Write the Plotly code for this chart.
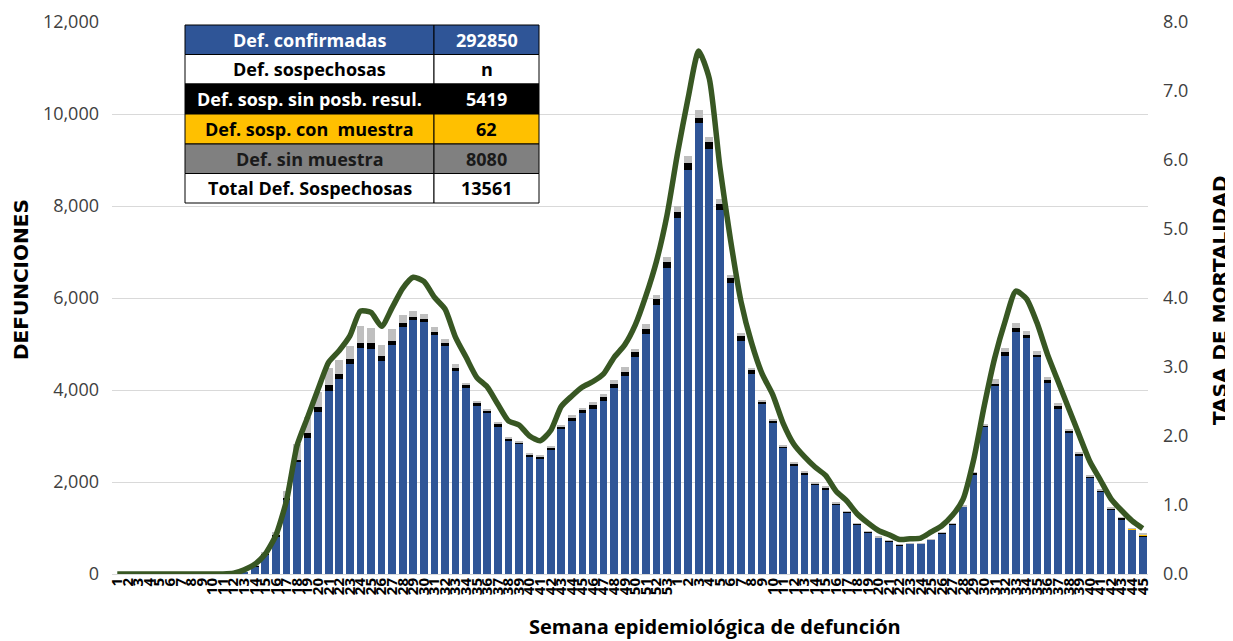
import plotly.graph_objects as go

# ---------------- data ----------------
weeks_2020 = list(range(1, 54))
weeks_2021 = list(range(1, 46))
week_labels = [str(w) for w in weeks_2020] + [str(w) for w in weeks_2021]

confirmadas = (
    [0] * 11 + [8, 40, 170, 420, 800, 1610, 2435, 2960, 3525, 3985, 4240, 4565, 4910, 4885,
                4640, 4980, 5365, 5525, 5480, 5205, 4960, 4420, 4035, 3657, 3497, 3206, 2886,
                2820, 2552, 2500, 2690, 3148, 3322, 3490, 3577, 3751, 4050, 4304, 4711, 5220,
                5852, 6657]
    + [7738, 8781, 9794, 9246, 7918, 6334, 5066, 4338, 3692, 3280, 2732, 2357, 2159, 1948,
       1839, 1512, 1330, 1076, 894, 785, 712, 625, 654, 654, 741, 880, 1076, 1460, 2166,
       3199, 4086, 4747, 5271, 5125, 4711, 4158, 3591, 3068, 2580, 2087, 1788, 1396, 1192,
       960, 821]
)

sin_posib_resul = (
    [0] * 13 + [10, 20, 50, 40, 50, 115, 110, 125, 110, 100, 110, 130, 90, 95, 90, 70, 65,
                60, 60, 65, 65, 58, 58, 58, 50, 45, 50, 50, 50, 50, 70, 70, 95, 95, 87, 95,
                110, 110, 124, 120]
    + [128, 150, 128, 150, 135, 105, 113, 90, 60, 60, 45, 45, 50, 30, 36, 30, 22, 22, 22,
       15, 15, 12, 12, 10, 10, 12, 15, 15, 30, 36, 44, 73, 87, 73, 58, 58, 65, 51, 36, 29,
       29, 22, 29, 10, 8]
)

con_muestra = [0] * 53 + [0] * 40 + [5, 2, 3, 12, 40]

sin_muestra = (
    [0] * 13 + [15, 30, 60, 160, 350, 340, 330, 360, 305, 290, 380, 340, 255, 255, 180, 130,
                110, 100, 90, 75, 60, 45, 35, 35, 30, 30, 35, 35, 35, 50, 58, 45, 58, 65, 73,
                95, 80, 95, 100, 113]
    + [128, 150, 158, 98, 90, 68, 53, 53, 38, 30, 38, 38, 25, 25, 20, 15, 15, 10, 10, 10, 8,
       8, 5, 5, 5, 5, 5, 5, 10, 10, 100, 87, 95, 80, 87, 58, 65, 36, 29, 15, 15, 22, 10, 5, 5]
)

tasa_mortalidad = (
    [0.0] * 11 + [0.01, 0.06, 0.14, 0.29, 0.56, 1.06, 1.86, 2.27, 2.68, 3.07, 3.24, 3.45,
                  3.81, 3.79, 3.59, 3.86, 4.14, 4.30, 4.24, 4.01, 3.84, 3.43, 3.14, 2.85,
                  2.71, 2.46, 2.22, 2.16, 2.00, 1.93, 2.08, 2.43, 2.58, 2.71, 2.79, 2.90,
                  3.14, 3.32, 3.61, 4.03, 4.53, 5.20]
    + [6.10, 6.90, 7.58, 7.18, 5.90, 4.85, 3.95, 3.35, 2.90, 2.60, 2.18, 1.88, 1.70, 1.55,
       1.43, 1.20, 1.06, 0.87, 0.74, 0.63, 0.57, 0.50, 0.51, 0.52, 0.61, 0.70, 0.85, 1.08,
       1.65, 2.43, 3.13, 3.67, 4.10, 3.99, 3.64, 3.18, 2.79, 2.40, 2.01, 1.63, 1.36, 1.09,
       0.92, 0.77, 0.66]
)

table_labels = ["Def. confirmadas", "Def. sospechosas", "Def. sosp. sin posb. resul.",
                "Def. sosp. con  muestra", "Def. sin muestra", "Total Def. Sospechosas"]
table_values = ["292850", "n", "5419", "62", "8080", "13561"]

# ---------------- figure ----------------
x_idx = list(range(len(week_labels)))

fig = go.Figure()
bar_specs = [
    (confirmadas, "#2F5597", "Def. confirmadas"),
    (sin_posib_resul, "#000000", "Def. sosp. sin posb. resul."),
    (con_muestra, "#FFC000", "Def. sosp. con muestra"),
    (sin_muestra, "#BFBFBF", "Def. sin muestra"),
]
for vals, col, name in bar_specs:
    fig.add_trace(go.Bar(x=x_idx, y=vals, name=name, marker=dict(color=col, line=dict(width=0)),
                         yaxis="y"))

fig.add_trace(go.Scatter(x=x_idx, y=tasa_mortalidad, mode="lines", name="Tasa",
                         line=dict(color="#385723", width=5.5, shape="spline", smoothing=0.6),
                         yaxis="y2"))

# page body margin offset (browser default 8px)
OFF = 8
FIG_W, FIG_H = 1233 - OFF, 641 - OFF
# plot area in screen pixels
SL, SR, ST, SB = 112, 1148, 22, 574
L, R, T, B = SL - OFF, SR - OFF, ST - OFF, SB - OFF
W, H = R - L, B - T


def px(x):
    return (x - SL) / W


def py(y):
    return (SB - y) / H


row_edges = [25, 54.5, 84, 114, 144, 173.5, 203]
col_edges = [185, 434, 539]
fills = ["#2F5597", "#FFFFFF", "#000000", "#FFC000", "#808080", "#FFFFFF"]
txtcols = ["#FFFFFF", "#000000", "#FFFFFF", "#000000", "#1A1A1A", "#000000"]

shapes = []
annotations = []
for i in range(6):
    y0, y1 = row_edges[i], row_edges[i + 1]
    for j in range(2):
        x0, x1 = col_edges[j], col_edges[j + 1]
        shapes.append(dict(type="rect", xref="paper", yref="paper",
                           x0=px(x0), x1=px(x1), y0=py(y1), y1=py(y0),
                           fillcolor=fills[i], line=dict(color="#000000", width=1),
                           layer="above"))
        txt = table_labels[i] if j == 0 else table_values[i]
        annotations.append(dict(xref="paper", yref="paper", x=px((x0 + x1) / 2),
                                y=py((y0 + y1) / 2), text="<b>" + txt + "</b>",
                                showarrow=False, xanchor="center", yanchor="middle",
                                font=dict(family="Open Sans", size=18, color=txtcols[i])))

# axis titles
title_font = dict(family="DejaVu Sans", size=20, color="#000000")
annotations.append(dict(xref="paper", yref="paper", x=px(715), y=py(641),
                        text="<b>Semana epidemiológica de defunción</b>", showarrow=False,
                        xanchor="center", yanchor="bottom", borderpad=0,
                        font=dict(family="Open Sans", size=20, color="#000000")))
annotations.append(dict(xref="paper", yref="paper", x=px(21), y=py(280),
                        text="<b>DEFUNCIONES</b>", showarrow=False, textangle=-90,
                        xanchor="center", yanchor="middle", font=title_font))
annotations.append(dict(xref="paper", yref="paper", x=px(1233), y=py(301),
                        text="<b>TASA DE MORTALIDAD</b>", showarrow=False, textangle=-90,
                        xanchor="right", yanchor="middle", borderpad=0, font=title_font))

fig.update_layout(
    width=FIG_W, height=FIG_H,
    margin=dict(l=L, r=FIG_W - R, t=T, b=FIG_H - B, autoexpand=False),
    barmode="stack", bargap=0.27,
    showlegend=False,
    plot_bgcolor="white", paper_bgcolor="white",
    font=dict(family="Open Sans", color="#404040"),
    xaxis=dict(range=[-0.5, len(week_labels) - 0.5], tickmode="array", tickvals=x_idx,
               ticktext=week_labels, tickangle=-90, showgrid=False, zeroline=False,
               showline=False, ticks="", automargin=False,
               tickfont=dict(family="Open Sans", size=15, color="#000000", weight="bold")),
    yaxis=dict(range=[0, 12000], dtick=2000, tickformat=",d", showgrid=True,
               gridcolor="#D9D9D9", gridwidth=1, zeroline=True, zerolinecolor="#D9D9D9",
               zerolinewidth=1, showline=False, ticks="", automargin=False,
               ticklabelstandoff=12,
               tickfont=dict(family="Open Sans", size=18, color="#404040")),
    yaxis2=dict(range=[0, 8], dtick=1, tickformat=".1f", overlaying="y", side="right",
                showgrid=False, zeroline=False, showline=False, ticks="", automargin=False,
                ticklabelstandoff=14,
                tickfont=dict(family="Open Sans", size=18, color="#404040")),
    shapes=shapes,
    annotations=annotations,
)

fig.write_html("out.html")
